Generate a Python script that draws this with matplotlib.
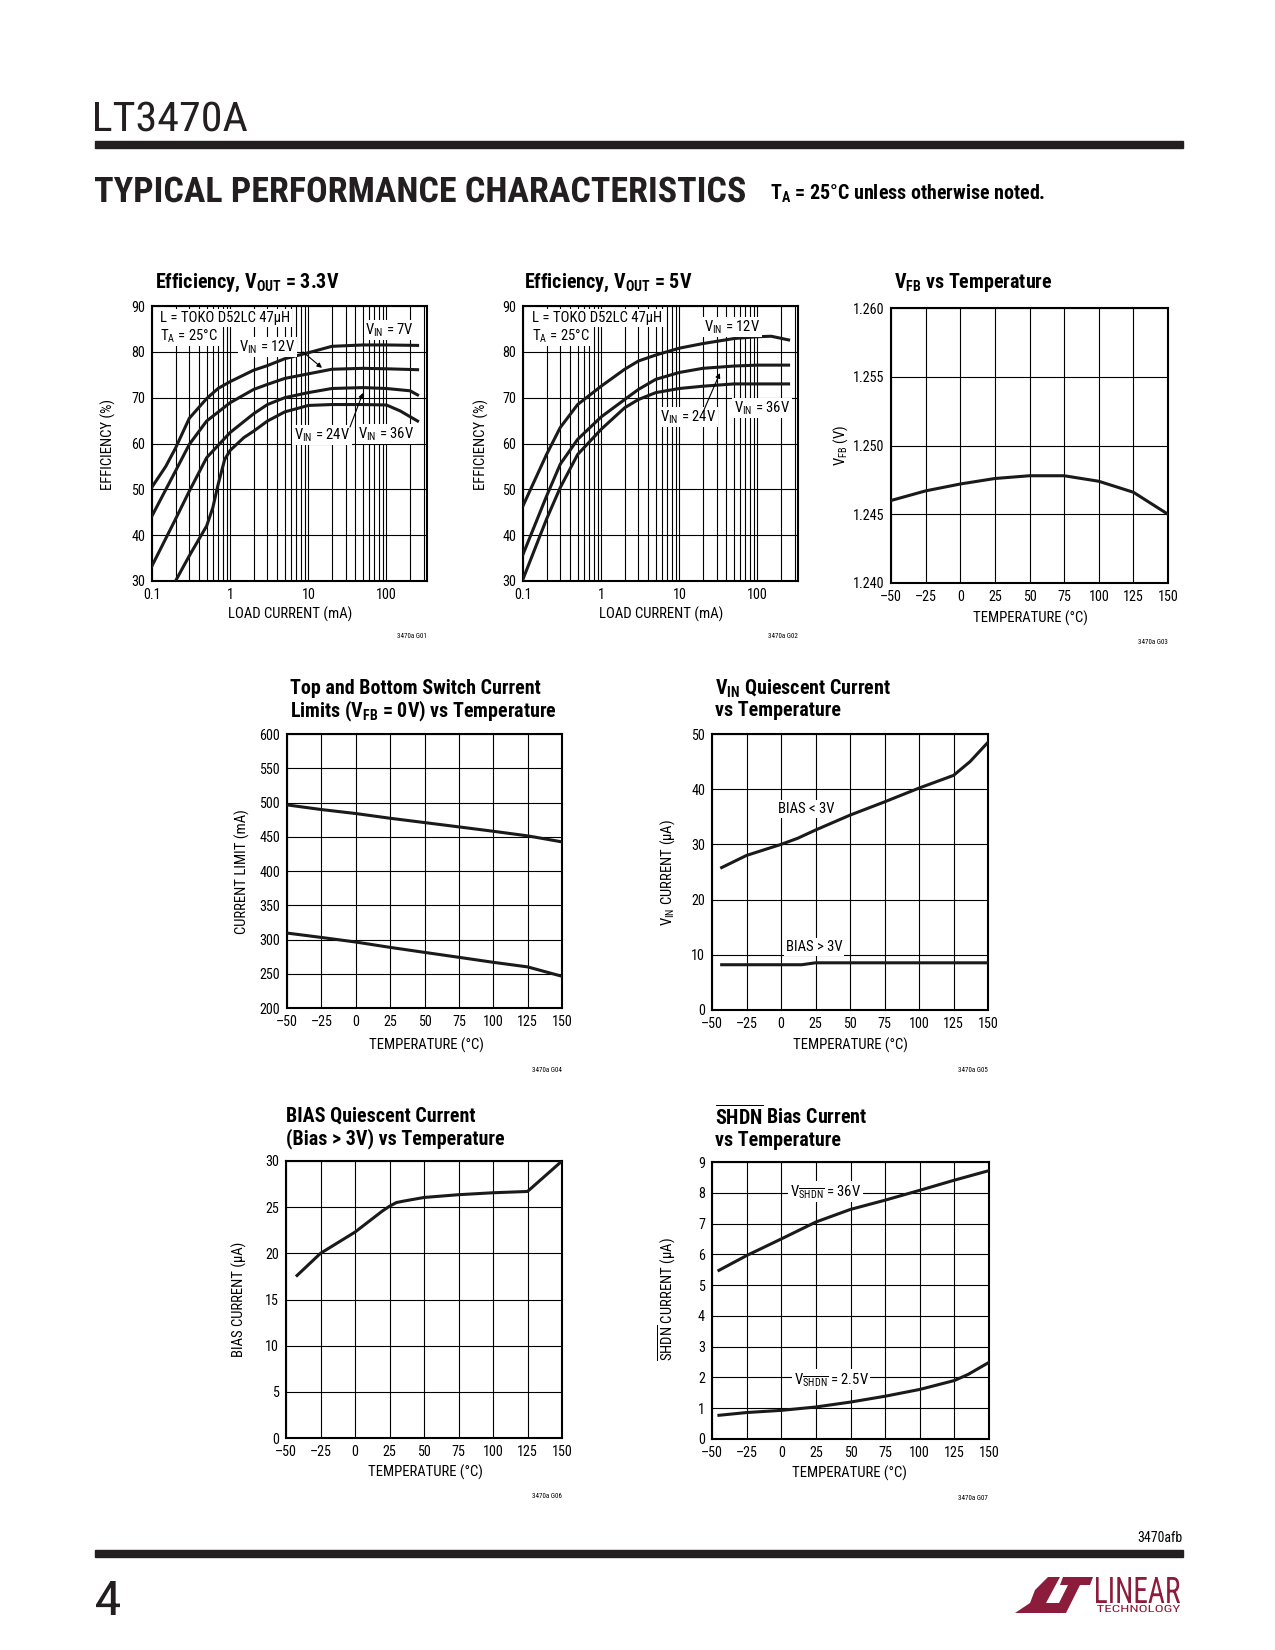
import matplotlib
matplotlib.use("Agg")
import matplotlib.pyplot as plt
from matplotlib import font_manager
from matplotlib.font_manager import FontProperties
from matplotlib.patches import Polygon, Rectangle, PathPatch
from matplotlib.textpath import TextPath
from matplotlib.transforms import Affine2D, IdentityTransform
from matplotlib.ticker import LogLocator, NullFormatter

W, H = 1275, 1650

# pick a condensed sans if one is installed, else fall back to Liberation Sans
FONT, STRETCH, K = "Liberation Sans", "normal", 0.86
prefs = ["Liberation Sans Narrow", "Roboto Condensed", "Noto Sans", "Open Sans", "Roboto"]
cond = [f for f in font_manager.fontManager.ttflist
        if "Narrow" in f.name or "Condensed" in f.name
        or f.stretch in ("condensed", "semi-condensed", "extra-condensed")]
for p in prefs:
    hit = [f for f in cond if f.name.startswith(p)]
    if hit:
        FONT, STRETCH, K = hit[0].name, hit[0].stretch, 1.0
        break

plt.rcParams["font.family"] = [FONT, "DejaVu Sans"]
plt.rcParams["font.stretch"] = STRETCH
plt.rcParams["mathtext.fontset"] = "custom"
plt.rcParams["mathtext.rm"] = FONT
plt.rcParams["mathtext.bf"] = FONT + ":bold"
plt.rcParams["mathtext.it"] = FONT + ":italic"

# ---- data ----
# Efficiency, VOUT = 3.3V (load current mA -> efficiency %)
e33_i_7v = [0.1, 0.15, 0.2, 0.3, 0.5, 0.7, 1, 2, 3, 5, 10, 20, 50, 100, 250]
e33_7v = [50.5, 55, 59, 65.5, 69.8, 72, 73.5, 76, 77, 78.5, 79.8, 81.2, 81.5, 81.5, 81.4]
e33_i_12v = [0.1, 0.2, 0.3, 0.5, 1, 2, 3, 5, 10, 20, 50, 100, 250]
e33_12v = [44.2, 54, 59.8, 64.9, 68.9, 71.8, 72.9, 74.2, 75.2, 76.2, 76.4, 76.3, 76.1]
e33_i_24v = [0.1, 0.2, 0.3, 0.5, 1, 2, 3, 5, 10, 20, 50, 100, 200, 250]
e33_24v = [33.3, 43.5, 49.6, 56.9, 62.4, 66.5, 68.5, 70, 71.1, 72, 72.2, 72, 71.5, 70.6]
e33_i_36v = [0.2, 0.3, 0.5, 0.6, 0.7, 0.85, 1, 1.5, 2, 3, 5, 10, 20, 50, 100, 150, 250]
e33_36v = [30, 35.5, 42, 46, 51, 56.5, 58.5, 61.3, 62.7, 64.9, 66.9, 68.3, 68.5, 68.5, 68.4, 67.1, 64.9]

# Efficiency, VOUT = 5V
e5_i_12v = [0.1, 0.2, 0.3, 0.5, 1, 2, 3, 5, 10, 20, 50, 100, 150, 250]
e5_12v = [46.4, 57.6, 63.5, 68.5, 72.5, 76.2, 78, 79.3, 80.8, 81.8, 82.9, 83.3, 83.4, 82.6]
e5_i = [0.1, 0.2, 0.3, 0.5, 1, 2, 3, 5, 10, 20, 50, 100, 250]
e5_24v = [35.8, 48.5, 55.5, 60.9, 65.8, 69.6, 71.8, 74, 75.5, 76.4, 76.9, 77.1, 77.1]
e5_36v = [30.4, 43.5, 50.4, 57.6, 63.1, 67.8, 69.6, 71.1, 72, 72.5, 73, 73, 73]

# VFB vs temperature
vfb_t = [-50, -25, 0, 25, 50, 75, 100, 125, 150]
vfb_v = [1.2460, 1.2467, 1.2472, 1.2476, 1.2478, 1.2478, 1.2474, 1.2466, 1.2450]

# switch current limits
ilim_t = [-50, -25, 0, 25, 50, 75, 100, 125, 150]
ilim_top = [496.5, 489.7, 483.9, 477, 470.7, 464.4, 458, 451.3, 442.5]
ilim_bot = [309.4, 303, 296.3, 288.5, 281.2, 274, 266.7, 260, 246.3]

# VIN quiescent current
vin_t_lo = [-43, -25, 0, 12, 25, 50, 75, 100, 125, 137, 150]
vin_lo = [25.8, 28.0, 30.0, 31.1, 32.6, 35.3, 37.7, 40.2, 42.5, 45, 48.5]
vin_t_hi = [-43, 0, 15, 25, 150]
vin_hi = [8.2, 8.2, 8.2, 8.55, 8.55]

# BIAS quiescent current
bias_t = [-42, -25, 0, 20, 25, 30, 35, 50, 75, 100, 125, 150]
bias_i = [17.6, 20.0, 22.3, 24.6, 25.1, 25.5, 25.65, 26.05, 26.35, 26.56, 26.7, 30]

# SHDN bias current
shdn_t = [-45, -25, 0, 25, 50, 75, 100, 125, 150]
shdn_36v = [5.48, 5.96, 6.5, 7.05, 7.46, 7.76, 8.08, 8.41, 8.72]
shdn_t_lo = [-45, -25, 0, 25, 50, 75, 100, 125, 135, 150]
shdn_2v5 = [0.77, 0.86, 0.93, 1.04, 1.2, 1.39, 1.61, 1.9, 2.1, 2.49]

temp_ticks = [-50, -25, 0, 25, 50, 75, 100, 125, 150]
temp_labels = ["\u201350", "\u201325", "0", "25", "50", "75", "100", "125", "150"]

TICK = 10.2 * K
LAB = 10.6 * K
TTL = 14.4 * K

fig = plt.figure(figsize=(W / 100, H / 100), dpi=100)


def T(x, y, s, **kw):
    # text placed in page pixel coordinates
    kw.setdefault("va", "center")
    fig.text(x / W, 1 - y / H, s, **kw)


def fit_text(x, y_base, s, width, cap, weight="bold", color="#231f20"):
    # text squeezed to a given width and cap height, page pixels
    tp = TextPath((0, 0), s, size=100, prop=FontProperties(family=FONT, weight=weight))
    ext = tp.get_extents()
    capp = TextPath((0, 0), "H", size=100, prop=FontProperties(family=FONT, weight=weight)).get_extents()
    sx = width / ext.width
    sy = cap / capp.height
    tr = Affine2D().translate(-ext.x0, 0).scale(sx, sy).translate(x, H - y_base)
    fig.patches.append(PathPatch(tr.transform_path(tp), transform=IdentityTransform(),
                                 fc=color, ec="none"))


def make_ax(l, t, r, b):
    ax = fig.add_axes([l / W, 1 - b / H, (r - l) / W, (b - t) / H])
    for s in ax.spines.values():
        s.set_linewidth(1.5)
    ax.tick_params(which="both", length=0, labelsize=TICK, pad=5)
    ax.grid(True, which="both", color="black", lw=0.8)
    ax.set_axisbelow(True)
    return ax


def curve(ax, x, y):
    ax.plot(x, y, color="#1a1a1a", lw=2.2, zorder=3)


def lab(ax, x, y, s, ha="center", coords="axes"):
    tr = ax.transAxes if coords == "axes" else ax.transData
    ax.text(x, y, s, transform=tr, ha=ha, va="center", fontsize=LAB,
            bbox=dict(fc="white", ec="none", pad=1.2), zorder=5)


def arrow(ax, p0, p1):
    ax.annotate("", xy=p1, xytext=p0, xycoords="axes fraction", textcoords="axes fraction",
                arrowprops=dict(arrowstyle="-|>", lw=0.8, color="black", mutation_scale=7,
                                shrinkA=0, shrinkB=0), zorder=6)


def temp_axis(ax, ymin, ymax, step, fmt):
    ax.set_xlim(-50, 150)
    ax.set_xticks(temp_ticks)
    ax.set_xticklabels(temp_labels)
    ax.set_ylim(ymin, ymax)
    yt = []
    v = ymin
    while v <= ymax + step / 1000:
        yt.append(v)
        v += step
    ax.set_yticks(yt)
    ax.set_yticklabels([fmt.format(v) for v in yt])


def eff_axis(ax):
    ax.set_xscale("log")
    ax.set_xlim(0.1, 330)
    ax.set_ylim(30, 90)
    ax.set_xticks([0.1, 1, 10, 100])
    ax.set_xticklabels(["0.1", "1", "10", "100"])
    ax.xaxis.set_minor_locator(LogLocator(base=10, subs=range(2, 10)))
    ax.xaxis.set_minor_formatter(NullFormatter())
    ax.set_yticks(range(30, 91, 10))


# ---- header ----
fit_text(95, 131, "LT3470A", 152, 29, weight="normal")
fig.patches.append(Rectangle((95 / W, 1 - 148 / H), (1183 - 95) / W, 7 / H,
                             transform=fig.transFigure, color="#231f20"))
fit_text(95, 202, "TYPICAL PERFORMANCE CHARACTERISTICS", 650, 25)
T(770, 194, r"T$_{\mathbf{A}}$ = 25°C unless otherwise noted.", fontsize=14.4 * K,
  fontweight="bold", ha="left")

# ---- Efficiency, VOUT = 3.3V ----
ax1 = make_ax(152, 306, 427, 581)
eff_axis(ax1)
curve(ax1, e33_i_7v, e33_7v)
curve(ax1, e33_i_12v, e33_12v)
curve(ax1, e33_i_24v, e33_24v)
curve(ax1, e33_i_36v, e33_36v)
lab(ax1, 0.03, 0.956, "L = TOKO D52LC 47µH", ha="left")
lab(ax1, 0.03, 0.891, r"T$_{\rm A}$ = 25°C", ha="left")
lab(ax1, 0.865, 0.913, r"V$_{\rm IN}$ = 7V")
lab(ax1, 0.42, 0.851, r"V$_{\rm IN}$ = 12V")
lab(ax1, 0.618, 0.531, r"V$_{\rm IN}$ = 24V")
lab(ax1, 0.851, 0.535, r"V$_{\rm IN}$ = 36V")
arrow(ax1, (0.549, 0.833), (0.618, 0.775))
arrow(ax1, (0.72, 0.56), (0.767, 0.684))
T(155, 283, r"Efficiency, V$_{\mathbf{OUT}}$ = 3.3V", fontsize=TTL, fontweight="bold", ha="left")
T(290, 614, "LOAD CURRENT (mA)", fontsize=LAB, ha="center")
T(108, 444, "EFFICIENCY (%)", fontsize=LAB, ha="center", rotation=90)
T(427, 637, "3470a G01", fontsize=5, ha="right")

# ---- Efficiency, VOUT = 5V ----
ax2 = make_ax(523, 306, 798, 581)
eff_axis(ax2)
curve(ax2, e5_i_12v, e5_12v)
curve(ax2, e5_i, e5_24v)
curve(ax2, e5_i, e5_36v)
lab(ax2, 0.033, 0.956, "L = TOKO D52LC 47µH", ha="left")
lab(ax2, 0.033, 0.891, r"T$_{\rm A}$ = 25°C", ha="left")
lab(ax2, 0.76, 0.924, r"V$_{\rm IN}$ = 12V")
lab(ax2, 0.60, 0.596, r"V$_{\rm IN}$ = 24V")
lab(ax2, 0.869, 0.629, r"V$_{\rm IN}$ = 36V")
arrow(ax2, (0.655, 0.615), (0.716, 0.756))
T(524, 283, r"Efficiency, V$_{\mathbf{OUT}}$ = 5V", fontsize=TTL, fontweight="bold", ha="left")
T(661, 614, "LOAD CURRENT (mA)", fontsize=LAB, ha="center")
T(481, 444, "EFFICIENCY (%)", fontsize=LAB, ha="center", rotation=90)
T(798, 637, "3470a G02", fontsize=5, ha="right")

# ---- VFB vs Temperature ----
ax3 = make_ax(891, 308, 1168, 583)
temp_axis(ax3, 1.240, 1.260, 0.005, "{:.3f}")
curve(ax3, vfb_t, vfb_v)
T(894, 283, r"V$_{\mathbf{FB}}$ vs Temperature", fontsize=TTL, fontweight="bold", ha="left")
T(1030, 618, "TEMPERATURE (°C)", fontsize=LAB, ha="center")
T(841, 445, r"V$_{\rm FB}$ (V)", fontsize=LAB, ha="center", rotation=90)
T(1168, 643, "3470a G03", fontsize=5, ha="right")

# ---- Switch current limits ----
ax4 = make_ax(287, 734, 562, 1008)
temp_axis(ax4, 200, 600, 50, "{:.0f}")
curve(ax4, ilim_t, ilim_top)
curve(ax4, ilim_t, ilim_bot)
T(290, 689, "Top and Bottom Switch Current", fontsize=TTL, fontweight="bold", ha="left")
T(290, 711, r"Limits (V$_{\mathbf{FB}}$ = 0V) vs Temperature", fontsize=TTL,
  fontweight="bold", ha="left")
T(426, 1045, "TEMPERATURE (°C)", fontsize=LAB, ha="center")
T(242, 872, "CURRENT LIMIT (mA)", fontsize=LAB, ha="center", rotation=90)
T(562, 1071, "3470a G04", fontsize=5, ha="right")

# ---- VIN quiescent current ----
ax5 = make_ax(712, 734, 988, 1010)
temp_axis(ax5, 0, 50, 10, "{:.0f}")
curve(ax5, vin_t_lo, vin_lo)
curve(ax5, vin_t_hi, vin_hi)
lab(ax5, 18, 36.4, "BIAS < 3V", coords="data")
lab(ax5, 24, 11.4, "BIAS > 3V", coords="data")
T(715, 689, r"V$_{\mathbf{IN}}$ Quiescent Current", fontsize=TTL, fontweight="bold", ha="left")
T(715, 711, "vs Temperature", fontsize=TTL, fontweight="bold", ha="left")
T(850, 1045, "TEMPERATURE (°C)", fontsize=LAB, ha="center")
T(668, 872, r"V$_{\rm IN}$ CURRENT (µA)", fontsize=LAB, ha="center", rotation=90)
T(988, 1071, "3470a G05", fontsize=5, ha="right")

# ---- BIAS quiescent current ----
ax6 = make_ax(286, 1161, 562, 1438)
temp_axis(ax6, 0, 30, 5, "{:.0f}")
curve(ax6, bias_t, bias_i)
T(286, 1116, "BIAS Quiescent Current", fontsize=TTL, fontweight="bold", ha="left")
T(286, 1139, "(Bias > 3V) vs Temperature", fontsize=TTL, fontweight="bold", ha="left")
T(425, 1472, "TEMPERATURE (°C)", fontsize=LAB, ha="center")
T(239, 1299, "BIAS CURRENT (µA)", fontsize=LAB, ha="center", rotation=90)
T(562, 1497, "3470a G06", fontsize=5, ha="right")

# ---- SHDN bias current ----
ax7 = make_ax(712, 1162, 989, 1439)
temp_axis(ax7, 0, 9, 1, "{:.0f}")
curve(ax7, shdn_t, shdn_36v)
curve(ax7, shdn_t_lo, shdn_2v5)
lab(ax7, 32, 8.03, r"V$_{\overline{\rm SHDN}}$ = 36V", coords="data")
lab(ax7, 36, 1.92, r"V$_{\overline{\rm SHDN}}$ = 2.5V", coords="data")
T(715, 1116, r"$\overline{\mathbf{SHDN}}$ Bias Current", fontsize=TTL, fontweight="bold", ha="left")
T(715, 1140, "vs Temperature", fontsize=TTL, fontweight="bold", ha="left")
T(849, 1473, "TEMPERATURE (°C)", fontsize=LAB, ha="center")
T(667, 1299, r"$\overline{\rm SHDN}$ CURRENT (µA)", fontsize=LAB, ha="center", rotation=90)
T(988, 1499, "3470a G07", fontsize=5, ha="right")

# ---- footer ----
T(1183, 1538, "3470afb", fontsize=10 * K, ha="right")
fig.patches.append(Rectangle((95 / W, 1 - 1557 / H), (1183 - 95) / W, 7 / H,
                             transform=fig.transFigure, color="#231f20"))
fit_text(96, 1615, "4", 24, 34, weight="normal")

maroon = "#8c1c3c"


def logo_poly(pts):
    # points given in page pixels
    xy = [(x / W, 1 - y / H) for x, y in pts]
    fig.patches.append(Polygon(xy, closed=True, transform=fig.transFigure,
                               fc=maroon, ec="none"))


logo_poly([(1048, 1577), (1060, 1577), (1046, 1603), (1062, 1603), (1060, 1613),
           (1015, 1613), (1030, 1603), (1035, 1590)])
logo_poly([(1063, 1577), (1093, 1577), (1090, 1585), (1080, 1585), (1066, 1613),
           (1054, 1613), (1068, 1585), (1060, 1585)])
fit_text(1096, 1603, "LINEAR", 84, 26, weight="normal", color=maroon)
fit_text(1097, 1612, "TECHNOLOGY", 83, 7, weight="normal", color=maroon)

fig.savefig("out.png", dpi=100)
